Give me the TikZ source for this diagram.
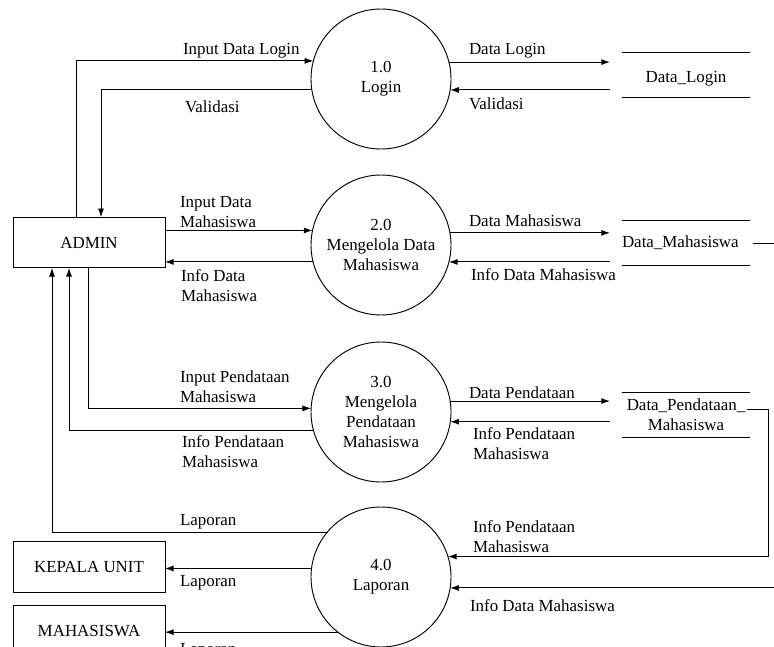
\documentclass[tikz,border=0pt]{standalone}
\usepackage{fontspec}
\setmainfont{Liberation Serif}
\usetikzlibrary{arrows.meta}
\begin{document}
\begin{tikzpicture}[x=0.75pt,y=-0.75pt,
  every node/.style={font=\fontsize{12.7}{15}\selectfont, inner sep=0pt, outer sep=0pt},
  proc/.style={circle, draw, line width=0.7pt, minimum size=105pt, align=center},
  ent/.style={rectangle, draw, line width=0.7pt, minimum width=114pt, minimum height=38pt},
  store/.style={rectangle, minimum width=96pt, minimum height=33.75pt, align=center},
  lbl/.style={anchor=west, align=left},
  arr/.style={line width=0.7pt, -{Latex[length=6.5pt,width=4.5pt]}},
  ln/.style={line width=0.7pt}]
\useasboundingbox (0,0) rectangle (774,646);
\clip (0,0) rectangle (774,646);

% processes
\node[proc] (p1) at (381,79) {1.0\\Login};
\node[proc] (p2) at (381,245) {2.0\\Mengelola Data\\Mahasiswa};
\node[proc] (p3) at (381,412) {3.0\\Mengelola\\Pendataan\\Mahasiswa};
\node[proc] (p4) at (381,577) {4.0\\Laporan};

% entities
\node[ent] (admin) at (89,242.5) {ADMIN};
\node[ent] (kepala) at (89,567) {KEPALA UNIT};
\node[ent] (mhs) at (89,631) {MAHASISWA};

% stores
\node[store, text height=15pt, text depth=3pt] (s1) at (686,74.5) {Data\_Login};
\node[store, text width=96pt, align=left] (s2) at (686,243) {Data\_Mahasiswa};
\node[store] (s3) at (686,414.5) {Data\_Pendataan\_\\Mahasiswa};
\foreach \s in {s1,s2,s3}{
  \draw[ln] (\s.north west) -- (\s.north east);
  \draw[ln] (\s.south west) -- (\s.south east);
}

\coordinate (sx) at (610,0);
\coordinate (rx) at (768,0);
\coordinate (rx2) at (790,0);

% process 1
\draw[arr] (admin.north -| 76,0) |- (p1.165);
\draw[arr] (p1.189) -| (admin.north -| 101,0);
\draw[arr] (p1.14) -- (p1.14 -| sx);
\draw[arr] (p1.351 -| sx) -- (p1.351);

% process 2
\draw[arr] (admin.east |- p2.168) -- (p2.168);
\draw[arr] (p2.194) -- (admin.east |- p2.194);
\draw[arr] (p2.10) -- (p2.10 -| sx);
\draw[arr] (p2.346 -| sx) -- (p2.346);

% process 3
\draw[arr] (admin.south -| 88,0) |- (p3.177);
\draw[arr] (p3.195) -| (admin.south -| 69,0);
\draw[arr] (p3.9) -- (p3.9 -| sx);
\draw[arr] (p3.352 -| sx) -- (p3.352);

% process 4
\draw[arr] (p4.141) -| (admin.south -| 52,0);
\draw[arr] (p4.173) -- (kepala.east |- p4.173);
\draw[arr] (p4.232) -- (mhs.east |- p4.232);
\draw[arr] ([xshift=-2pt,yshift=4pt]s3.east) -| (rx |- p4.17) -- (p4.17);
\draw[arr] ([xshift=2pt]s2.east) -| (rx2 |- p4.351) -- (p4.351);

% labels
\node[lbl] (l1) at (183,51) {Input Data Login};
\node[lbl] (l2) at (185,107) {Validasi};
\node[lbl] (l3) at (469,51) {Data Login};
\node[lbl] (l4) at (469,104) {Validasi};
\node[lbl] (l5) at (180,212.5) {Input Data\\Mahasiswa};
\node[lbl] (l6) at (181,285.5) {Info Data\\Mahasiswa};
\node[lbl] (l7) at (469,221) {Data Mahasiswa};
\node[lbl] (l8) at (471,275) {Info Data Mahasiswa};
\node[lbl] (l9) at (180,386.5) {Input Pendataan\\Mahasiswa};
\node[lbl] (l10) at (182,452) {Info Pendataan\\Mahasiswa};
\node[lbl] (l11) at (469,393) {Data Pendataan};
\node[lbl] (l12) at (473,444) {Info Pendataan\\Mahasiswa};
\node[lbl] (l13) at (473,536.5) {Info Pendataan\\Mahasiswa};
\node[lbl] (l14) at (470,606) {Info Data Mahasiswa};
\node[lbl] (l15) at (180,522) {Laporan};
\node[lbl] (l16) at (180,583) {Laporan};
\node[lbl] (l17) at (180,651) {Laporan};
\end{tikzpicture}
\end{document}
